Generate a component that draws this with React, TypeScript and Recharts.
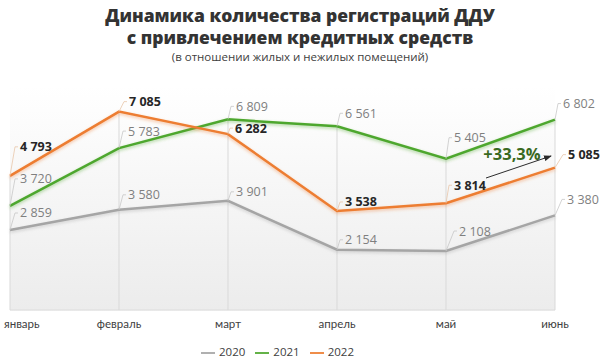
import React from "react";
import {
  LineChart,
  Line,
  XAxis,
  YAxis,
  CartesianGrid,
  Legend,
  ReferenceLine,
  LabelList,
} from "recharts";

// ── Data ─────────────────────────────────────────────────────

const months = ["январь", "февраль", "март", "апрель", "май", "июнь"];
const values2020 = [2859, 3580, 3901, 2154, 2108, 3380];
const values2021 = [3720, 5783, 6809, 6561, 5405, 6802];
const values2022 = [4793, 7085, 6282, 3538, 3814, 5085];

// label placement: pixel offsets of the value text from its point
const labelDx2020 = [10, 9, 8, 8, 13, 12];
const labelDy2020 = [-17, -15, -9, -10, -20, -16];
const labelDx2021 = [10, 9, 8, 8, 8, 8];
const labelDy2021 = [-27, -17, -13, -13, -21, -16];
const labelDx2022 = [10, 10, 7, 8, 8, 13];
const labelDy2022 = [-29, -10, -6, -9, -18, -13];

const rows = months.map((month, i) => ({
  month,
  y2020: values2020[i],
  y2021: values2021[i],
  y2022: values2022[i],
}));

const dropTops = months.map((_, i) =>
  Math.max(values2020[i], values2021[i], values2022[i])
);

const GRAY = "#a5a5a5";
const GREEN = "#4ea72e";
const ORANGE = "#ed7d31";
const FONT = "'Open Sans', 'Noto Sans', sans-serif";

const fmt = (v: number) => String(v).replace(/\B(?=(\d{3})+(?!\d))/g, " ");

// ── Labels with leader lines ────────────────────────────────

function makeLabel(dxs: number[], dys: number[], bold: boolean, leader: string) {
  return (props: any) => {
    const { x, y, value, index } = props;
    if (x == null || y == null) return null;
    const tx = x + dxs[index];
    const ty = y + dys[index];
    return (
      <g>
        <polyline
          points={`${x},${y} ${tx - 5},${ty} ${tx - 2},${ty}`}
          fill="none"
          stroke={leader}
          strokeWidth={0.8}
        />
        <text
          x={tx}
          y={ty}
          dominantBaseline="central"
          fontFamily={FONT}
          fontSize={12.5}
          fontWeight={bold ? 700 : 400}
          fill={bold ? "#262626" : "#7f7f7f"}
        >
          {fmt(value)}
        </text>
      </g>
    );
  };
}

function MonthTick({ x, y, payload, index }: any) {
  const first = index === 0;
  return (
    <text
      x={first ? x - 6 : x}
      y={y + 10}
      textAnchor={first ? "start" : "middle"}
      fontFamily="Lato, 'Open Sans', sans-serif"
      fontSize={11.5}
      fill="#404040"
    >
      {payload.value}
    </text>
  );
}

// ── Chart ────────────────────────────────────────────────────

export default function App() {
  return (
    <div style={{ position: "absolute", left: 0, top: 0, width: 600, height: 362, background: "#fff" }}>
      <div
        style={{
          position: "absolute",
          top: 4,
          left: 0,
          width: 600,
          textAlign: "center",
          fontFamily: FONT,
          color: "#333333",
        }}
      >
        <div style={{ fontSize: 17.5, fontWeight: 800, lineHeight: "22px" }}>
          Динамика количества регистраций ДДУ
        </div>
        <div style={{ fontSize: 17.5, fontWeight: 800, lineHeight: "22px" }}>
          с привлечением кредитных средств
        </div>
        <div style={{ fontSize: 11.5, lineHeight: "16px", marginTop: 1, color: "#404040" }}>
          (в отношении жилых и нежилых помещений)
        </div>
      </div>

      <div style={{ position: "absolute", left: 0, top: 0 }}>
        <LineChart
          width={600}
          height={362}
          data={rows}
          margin={{ top: 86, right: 45, bottom: 2, left: 10 }}
        >
          <defs>
            <linearGradient id="plotBg" x1="0" y1="0" x2="0" y2="1">
              <stop offset="0%" stopColor="#ffffff" />
              <stop offset="100%" stopColor="#ececec" />
            </linearGradient>
            {[["glowGray", GRAY], ["glowGreen", GREEN], ["glowOrange", ORANGE]].map(([id, c]) => (
              <filter key={id} id={id} filterUnits="userSpaceOnUse" x={0} y={0} width={600} height={362}>
                <feDropShadow dx={0} dy={1.5} stdDeviation={1.4} floodColor={c} floodOpacity={0.45} />
              </filter>
            ))}
          </defs>
          <CartesianGrid horizontal={false} vertical={false} fill="url(#plotBg)" stroke="none" />
          <XAxis
            dataKey="month"
            axisLine={{ stroke: "#d9d9d9" }}
            tickLine={false}
            tick={<MonthTick />}
            interval={0}
            height={34}
          />
          <YAxis hide domain={[0, 8000]} />
          {months.map((m, i) => (
            <ReferenceLine
              key={m}
              segment={[
                { x: m, y: 0 },
                { x: m, y: dropTops[i] },
              ]}
              stroke="#d9d9d9"
              strokeWidth={1}
            />
          ))}
          <Line
            dataKey="y2020"
            name="2020"
            stroke={GRAY}
            strokeWidth={2.5}
            dot={false}
            filter="url(#glowGray)"
            isAnimationActive={false}
          >
            <LabelList dataKey="y2020" content={makeLabel(labelDx2020, labelDy2020, false, "#c8c8c8")} />
          </Line>
          <Line
            dataKey="y2021"
            name="2021"
            stroke={GREEN}
            strokeWidth={2.5}
            dot={false}
            filter="url(#glowGreen)"
            isAnimationActive={false}
          >
            <LabelList dataKey="y2021" content={makeLabel(labelDx2021, labelDy2021, false, "#c8c8c8")} />
          </Line>
          <Line
            dataKey="y2022"
            name="2022"
            stroke={ORANGE}
            strokeWidth={2.5}
            dot={false}
            filter="url(#glowOrange)"
            isAnimationActive={false}
          >
            <LabelList dataKey="y2022" content={makeLabel(labelDx2022, labelDy2022, true, "#e9c6aa")} />
          </Line>
          <Legend
            verticalAlign="bottom"
            iconType="plainline"
            iconSize={14}
            wrapperStyle={{ fontFamily: FONT, fontSize: 11.5 }}
            formatter={(v: string) => <span style={{ color: "#404040" }}>{v}</span>}
          />
        </LineChart>
      </div>

      <svg
        width={600}
        height={362}
        style={{ position: "absolute", left: 0, top: 0, pointerEvents: "none" }}
      >
        <defs>
          <marker id="arrowHead" markerWidth="8" markerHeight="6" refX="7" refY="3" orient="auto">
            <path d="M0,0 L8,3 L0,6 Z" fill="#2b2b2b" />
          </marker>
        </defs>
        <text
          x={512}
          y={153}
          textAnchor="middle"
          dominantBaseline="central"
          fontFamily={FONT}
          fontSize={16.5}
          fontWeight={700}
          fill="#3a6a1f"
        >
          +33,3%
        </text>
        <line x1={486} y1={178} x2={551} y2={156} stroke="#2b2b2b" strokeWidth={1} markerEnd="url(#arrowHead)" />
      </svg>
    </div>
  );
}
